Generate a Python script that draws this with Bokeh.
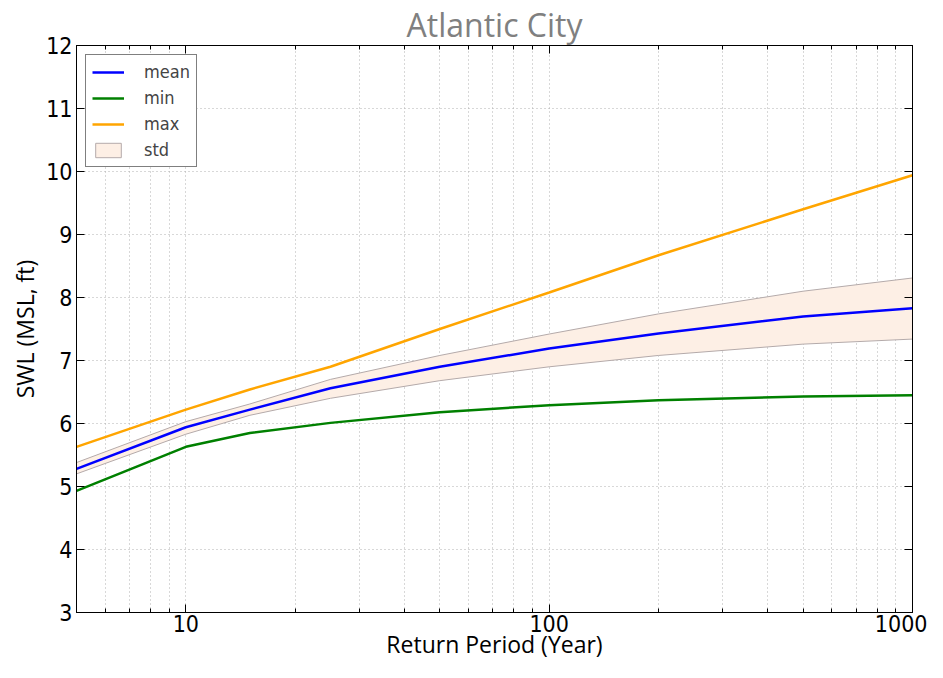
from bokeh.plotting import figure
from bokeh.models import (Range1d, FixedTicker, PrintfTickFormatter, LinearAxis, LogAxis,
                          Legend, LegendItem, ColumnDataSource, Title)
from bokeh.embed import file_html
from bokeh.resources import INLINE

# ---- data ----
periods = [5, 10, 15, 25, 50, 100, 200, 500, 1000]
swl_mean = [5.28, 5.94, 6.22, 6.56, 6.90, 7.19, 7.43, 7.70, 7.83]
swl_min = [4.93, 5.63, 5.85, 6.01, 6.18, 6.29, 6.37, 6.43, 6.45]
swl_max = [5.63, 6.22, 6.54, 6.90, 7.50, 8.08, 8.67, 9.40, 9.94]
std_lower = [5.20, 5.83, 6.13, 6.40, 6.68, 6.90, 7.08, 7.26, 7.34]
std_upper = [5.38, 6.03, 6.31, 6.70, 7.08, 7.42, 7.74, 8.10, 8.31]

x_major = [10, 100, 1000]
x_minor = [5, 6, 7, 8, 9, 20, 30, 40, 50, 60, 70, 80, 90,
           200, 300, 400, 500, 600, 700, 800, 900]
y_major = [3, 4, 5, 6, 7, 8, 9, 10, 11, 12]

TICK_FONT = "DejaVu Sans Condensed"
LABEL_FONT = "Open Sans"

p = figure(width=927, height=662, x_axis_type="log",
           x_range=Range1d(5, 1000), y_range=Range1d(3, 12),
           output_backend="svg", toolbar_location=None,
           min_border_left=76, min_border_right=15, min_border_top=30, min_border_bottom=40)

p.title = Title(text="Atlantic City", text_font=LABEL_FONT, text_font_size="32px",
                text_font_style="normal", text_color="#808080", align="center",
                standoff=0, offset=0)

# band
band_x = periods + periods[::-1]
band_y = std_upper + std_lower[::-1]
band = p.patch(band_x, band_y, fill_color="#fdefe5", line_color="#b4aaaa", line_width=1)

src = ColumnDataSource(dict(x=periods, mean=swl_mean, mn=swl_min, mx=swl_max))
r_mean = p.line("x", "mean", source=src, line_color="#0000ff", line_width=2.5)
r_min = p.line("x", "mn", source=src, line_color="#008000", line_width=2.5)
r_max = p.line("x", "mx", source=src, line_color="#ffa500", line_width=2.5)

# axes styling
def style_axis(ax, show_labels=True):
    ax.major_tick_in = 8
    ax.major_tick_out = 0
    ax.minor_tick_in = 4
    ax.minor_tick_out = 0
    ax.axis_line_color = "black"
    ax.axis_line_width = 1
    ax.major_tick_line_color = "black"
    ax.minor_tick_line_color = "black"
    ax.major_label_text_font = TICK_FONT
    ax.major_label_text_font_size = "23px" if show_labels else "1px"
    ax.major_label_text_color = "black"
    if not show_labels:
        ax.major_label_text_alpha = 0
    ax.major_label_standoff = 4 if show_labels else 0
    ax.axis_label_text_font = LABEL_FONT
    ax.axis_label_text_font_size = "23px"
    ax.axis_label_text_font_style = "normal"
    ax.axis_label_text_color = "black"

xtick = FixedTicker(ticks=x_major, minor_ticks=x_minor)
ytick = FixedTicker(ticks=y_major, minor_ticks=[])

xa = p.xaxis[0]
xa.ticker = xtick
xa.formatter = PrintfTickFormatter(format="%d")
xa.axis_label = "Return Period (Year)"
style_axis(xa)
xa.major_label_standoff = 2
xa.axis_label_standoff = -7

ya = p.yaxis[0]
ya.ticker = ytick
ya.axis_label = "SWL (MSL, ft)"
style_axis(ya)
ya.axis_label_standoff = 2

top = LogAxis(ticker=FixedTicker(ticks=x_major, minor_ticks=x_minor))
style_axis(top, show_labels=False)
p.add_layout(top, "above")
right = LinearAxis(ticker=FixedTicker(ticks=y_major, minor_ticks=[]))
style_axis(right, show_labels=False)
p.add_layout(right, "right")

# grid
p.xgrid.ticker = xtick
p.ygrid.ticker = ytick
for g in (p.xgrid[0], p.ygrid[0]):
    g.grid_line_color = "#b0b0b0"
    g.grid_line_dash = "1 3"
    g.grid_line_width = 1
p.xgrid.minor_grid_line_color = "#b0b0b0"
p.xgrid.minor_grid_line_dash = "1 3"

p.outline_line_color = "black"
p.outline_line_width = 1
p.background_fill_color = "white"
p.border_fill_color = "white"

legend = Legend(items=[
    LegendItem(label="mean", renderers=[r_mean]),
    LegendItem(label="min", renderers=[r_min]),
    LegendItem(label="max", renderers=[r_max]),
    LegendItem(label="std", renderers=[band]),
], location="top_left")
legend.label_text_font = TICK_FONT
legend.label_text_font_size = "18px"
legend.label_standoff = 20
legend.glyph_width = 32
legend.glyph_height = 18
legend.label_height = 18
legend.spacing = 5
legend.padding = 6
legend.margin = 9
legend.border_line_color = "black"
legend.border_line_width = 1
legend.background_fill_alpha = 1
p.add_layout(legend)

open("out.html", "w").write(file_html(p, INLINE))
